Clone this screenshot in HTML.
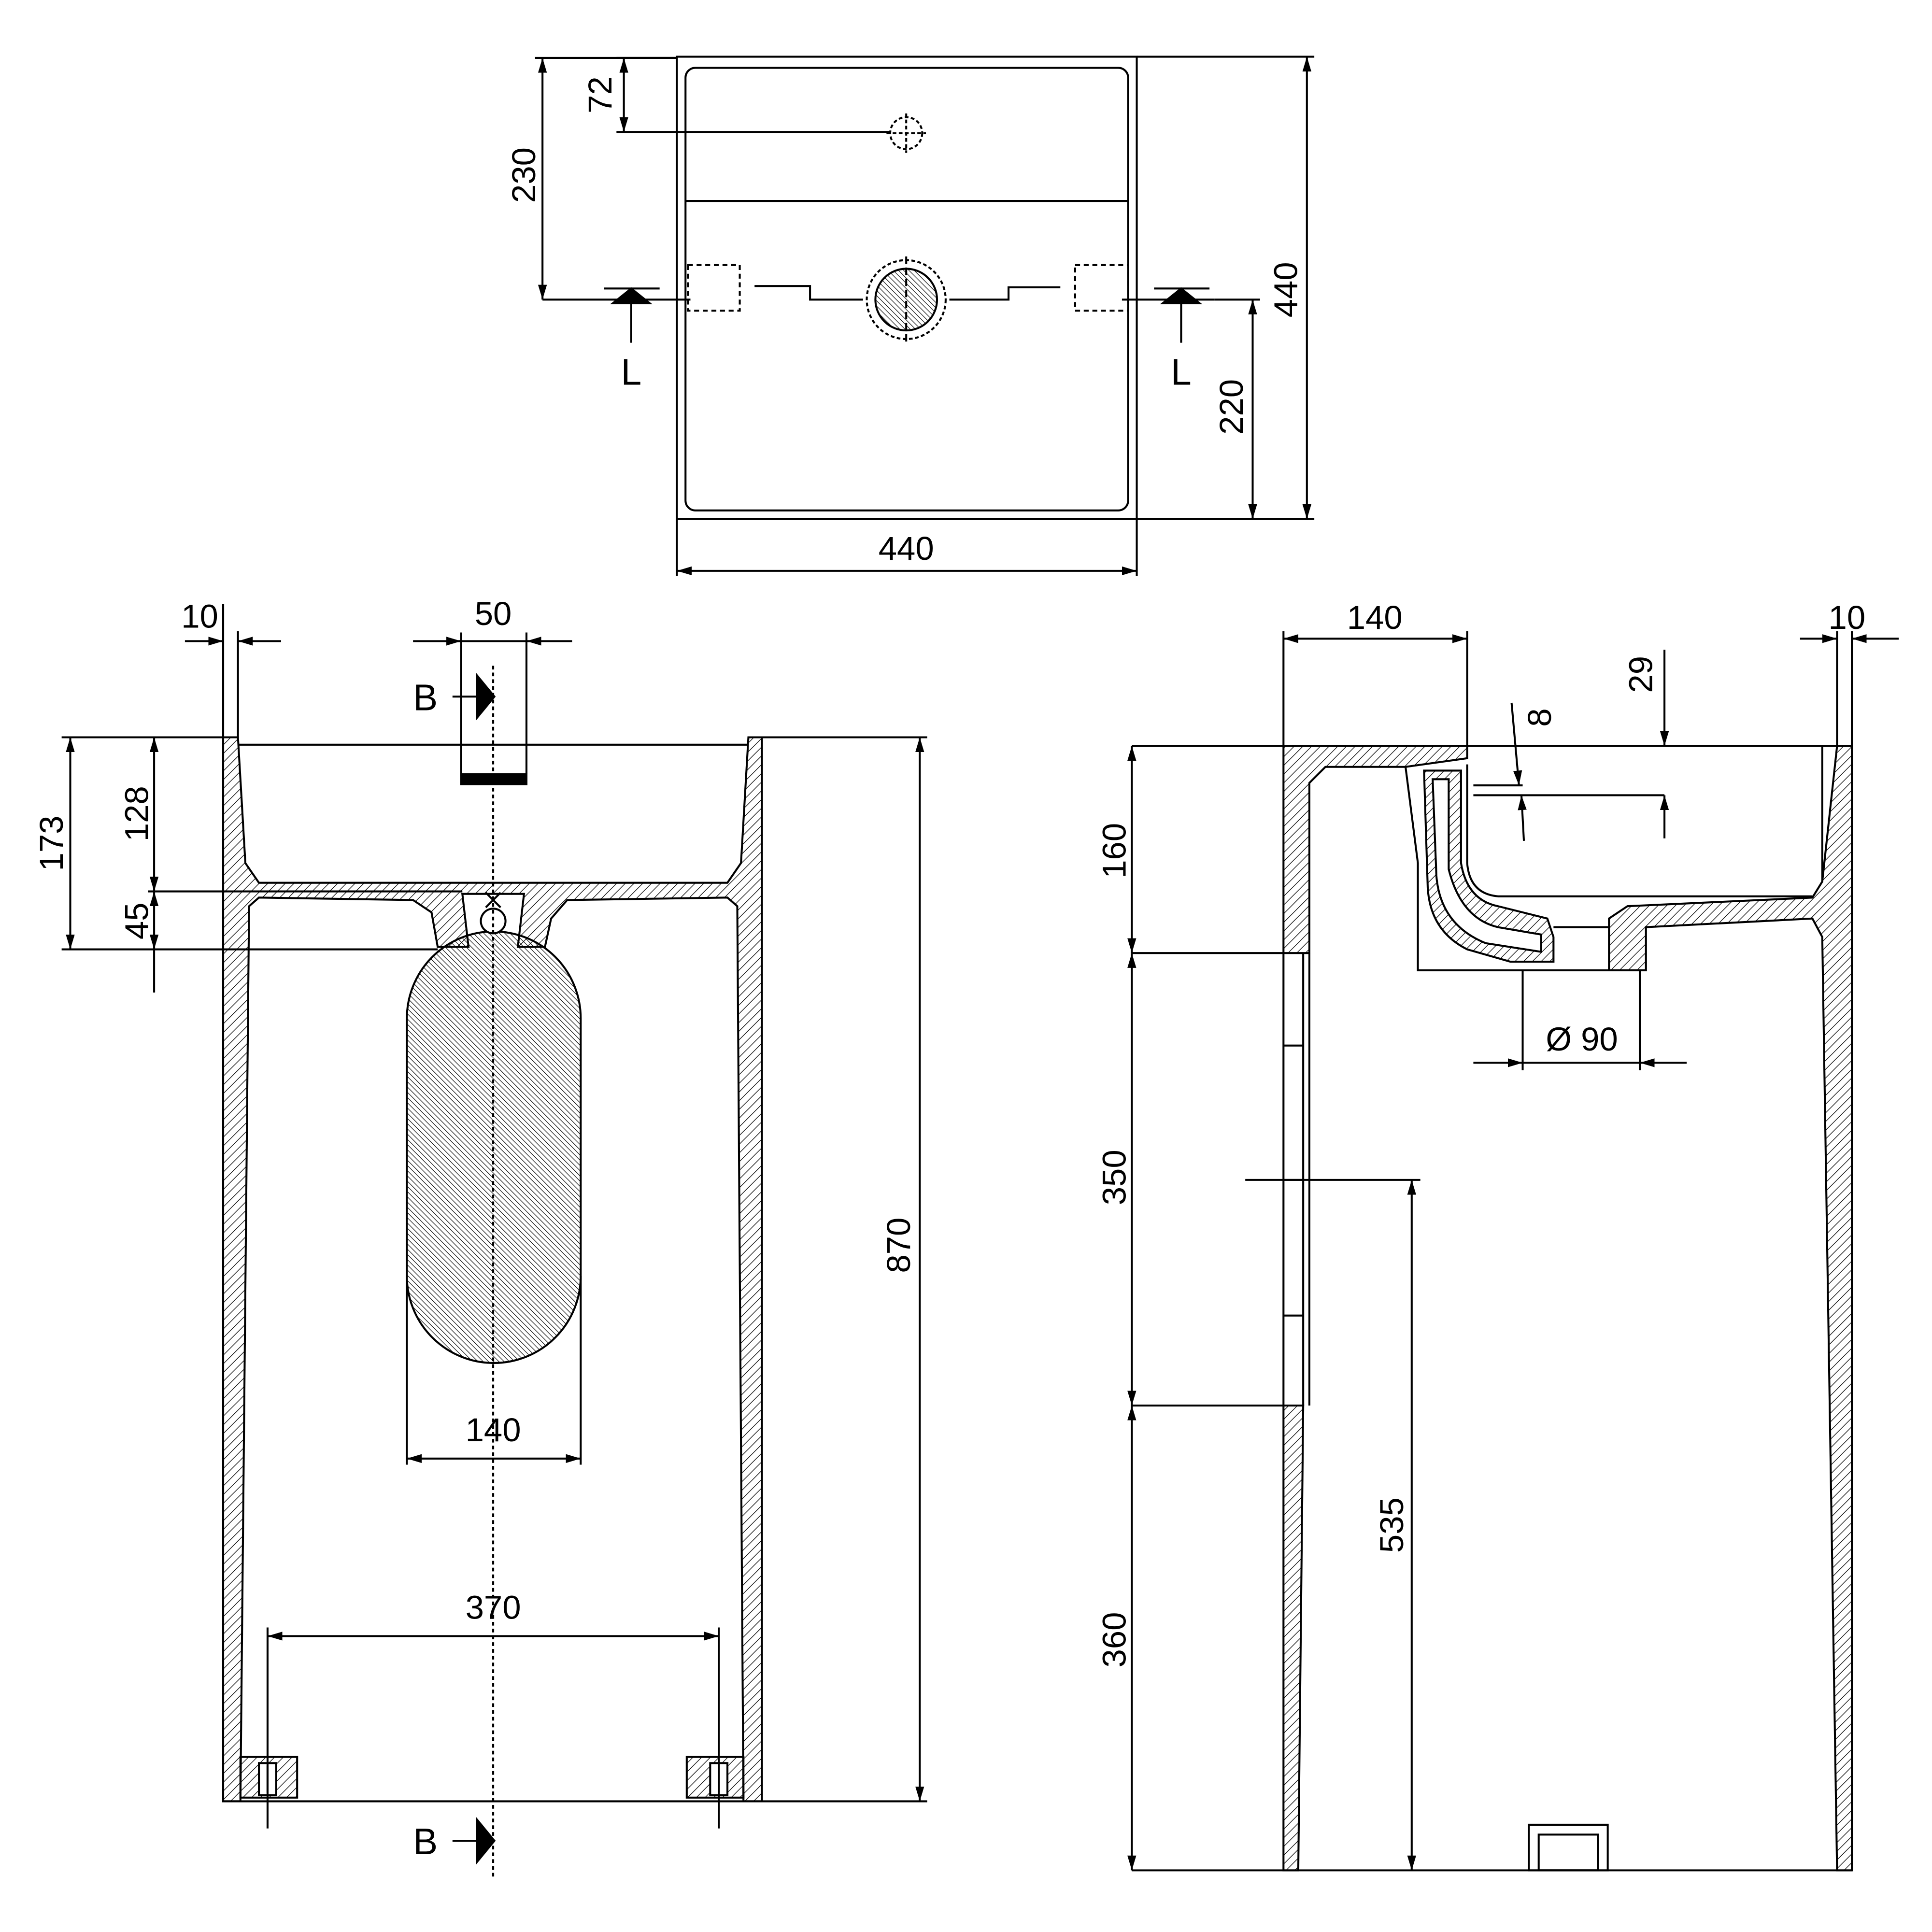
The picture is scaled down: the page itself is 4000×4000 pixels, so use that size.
<!DOCTYPE html>
<html><head><meta charset="utf-8"><style>html,body{margin:0;padding:0;background:#fff}svg{display:block}</style></head>
<body>
<svg width="4000" height="4000" viewBox="0 0 1567 1567" xmlns="http://www.w3.org/2000/svg" font-family="Liberation Sans, sans-serif" font-size="27" fill="none" stroke="#000" stroke-width="1.6">
<defs>
<pattern id="h" patternUnits="userSpaceOnUse" width="5" height="5" patternTransform="rotate(45)"><line x1="0" y1="0" x2="0" y2="5" stroke="#000" stroke-width="1"/></pattern>
<pattern id="h2" patternUnits="userSpaceOnUse" width="3" height="3" patternTransform="rotate(-45)"><line x1="0" y1="0" x2="0" y2="3" stroke="#000" stroke-width="0.9"/></pattern>
<marker id="a" viewBox="0 0 10 10" refX="10" refY="5" markerWidth="12" markerHeight="12" markerUnits="userSpaceOnUse" orient="auto-start-reverse"><path d="M0,2 L10,5 L0,8 z" fill="#000" stroke="none"/></marker>
</defs>

<!-- TOP VIEW -->
<rect x="549" y="46" width="373" height="375"/>
<rect x="556" y="55" width="359" height="359" rx="8"/>
<line x1="556" y1="163" x2="915" y2="163"/>
<circle cx="735" cy="108" r="13" stroke-dasharray="3,2"/>
<line x1="735" y1="92" x2="735" y2="124" stroke-dasharray="3,2"/><line x1="719" y1="108" x2="751" y2="108" stroke-dasharray="3,2"/>
<circle cx="735" cy="243" r="32" stroke-dasharray="3,2"/>
<circle cx="735" cy="243" r="25" fill="url(#h2)"/>
<line x1="735" y1="208" x2="735" y2="278" stroke-dasharray="6,3"/>
<rect x="558" y="215" width="42" height="37" stroke-dasharray="4,3"/>
<rect x="872" y="215" width="43" height="37" stroke-dasharray="4,3"/>
<polyline points="440,243 560,243"/>
<polyline points="612,232 657,232 657,243 700,243"/>
<polyline points="770,243 818,243 818,233 860,233"/>
<polyline points="910,243 985,243"/>
<line x1="490" y1="234" x2="535" y2="234"/><path d="M497,246 L512,234 L527,246 z" fill="#000"/>
<line x1="512" y1="246" x2="512" y2="278"/>
<line x1="936" y1="234" x2="981" y2="234"/><path d="M943,246 L958,234 L973,246 z" fill="#000"/>
<line x1="958" y1="246" x2="958" y2="278"/>
<g fill="#000" stroke="none" font-size="30"><text x="512" y="312" text-anchor="middle">L</text><text x="958" y="312" text-anchor="middle">L</text></g>
<!-- dims top -->
<line x1="500" y1="107" x2="722" y2="107"/><line x1="500" y1="47" x2="549" y2="47"/>
<line x1="506" y1="47" x2="506" y2="107" marker-start="url(#a)" marker-end="url(#a)"/>
<line x1="434" y1="47" x2="549" y2="47"/>
<line x1="440" y1="47" x2="440" y2="243" marker-start="url(#a)" marker-end="url(#a)"/>
<line x1="922" y1="46" x2="1066" y2="46"/><line x1="922" y1="421" x2="1066" y2="421"/>
<line x1="1060" y1="46" x2="1060" y2="421" marker-start="url(#a)" marker-end="url(#a)"/>
<line x1="985" y1="243" x2="1022" y2="243"/>
<line x1="1016" y1="243" x2="1016" y2="421" marker-start="url(#a)" marker-end="url(#a)"/>
<line x1="549" y1="421" x2="549" y2="467"/><line x1="922" y1="421" x2="922" y2="467"/>
<line x1="549" y1="463" x2="922" y2="463" marker-start="url(#a)" marker-end="url(#a)"/>
<g fill="#000" stroke="none">
<text transform="translate(496,77) rotate(-90)" text-anchor="middle">72</text>
<text transform="translate(434,142) rotate(-90)" text-anchor="middle">230</text>
<text transform="translate(1052,235) rotate(-90)" text-anchor="middle">440</text>
<text transform="translate(1008,330) rotate(-90)" text-anchor="middle">220</text>
<text x="735" y="454" text-anchor="middle">440</text>
</g>

<!-- FRONT SECTION -->
<path d="M181,598 L193,598 L199,700 L210,716 L590,716 L601,700 L607,598 L618,598 L618,1461 L603,1461 L598,735 L590,728 L460,730 L447,745 L442,768 L420,768 L425,725 L375,725 L380,768 L355,768 L350,740 L335,730 L210,728 L202,735 L195,1461 L181,1461 Z" fill="url(#h)"/>
<line x1="193" y1="604" x2="607" y2="604"/>
<line x1="181" y1="1461" x2="618" y2="1461"/>
<path d="M330,826 A70.5,70.5 0 0 1 471,826 L471,1035 A70.5,70.5 0 0 1 330,1035 Z" fill="url(#h2)"/>
<rect x="195" y="1425" width="46" height="33" fill="url(#h)"/><rect x="210" y="1430" width="14" height="26" fill="#fff"/><line x1="217" y1="1432" x2="217" y2="1454"/>
<rect x="557" y="1425" width="46" height="33" fill="url(#h)"/><rect x="576" y="1430" width="14" height="26" fill="#fff"/><line x1="583" y1="1432" x2="583" y2="1454"/>
<rect x="374" y="628" width="53" height="8" fill="#000"/>
<circle cx="400" cy="747" r="10" fill="#fff"/>
<path d="M394,724 L406,736 M406,724 L394,736"/>
<line x1="400" y1="540" x2="400" y2="1522" stroke-dasharray="3,2.5"/>
<!-- B markers -->
<line x1="367" y1="565" x2="387" y2="565"/><path d="M387,548 L401,565 L387,582 z" fill="#000"/>
<line x1="367" y1="1493" x2="387" y2="1493"/><path d="M387,1476 L401,1493 L387,1510 z" fill="#000"/>
<g fill="#000" stroke="none" font-size="30"><text x="345" y="576" text-anchor="middle">B</text><text x="345" y="1504" text-anchor="middle">B</text></g>
<!-- dims front -->
<line x1="181" y1="490" x2="181" y2="598"/><line x1="193" y1="512" x2="193" y2="598"/>
<line x1="150" y1="520" x2="181" y2="520" marker-end="url(#a)"/><line x1="228" y1="520" x2="193" y2="520" marker-end="url(#a)"/>
<line x1="374" y1="513" x2="374" y2="628"/><line x1="427" y1="513" x2="427" y2="628"/>
<line x1="335" y1="520" x2="464" y2="520"/>
<line x1="362" y1="520" x2="374" y2="520" marker-end="url(#a)"/><line x1="439" y1="520" x2="427" y2="520" marker-end="url(#a)"/>
<line x1="50" y1="598" x2="181" y2="598"/><line x1="120" y1="723" x2="375" y2="723"/><line x1="50" y1="770" x2="355" y2="770"/>
<line x1="57" y1="598" x2="57" y2="770" marker-start="url(#a)" marker-end="url(#a)"/>
<line x1="125" y1="598" x2="125" y2="723" marker-start="url(#a)" marker-end="url(#a)"/>
<line x1="125" y1="723" x2="125" y2="770" marker-start="url(#a)" marker-end="url(#a)"/>
<line x1="125" y1="770" x2="125" y2="805"/>
<line x1="618" y1="598" x2="752" y2="598"/><line x1="618" y1="1461" x2="752" y2="1461"/>
<line x1="746" y1="598" x2="746" y2="1461" marker-start="url(#a)" marker-end="url(#a)"/>
<line x1="330" y1="1035" x2="330" y2="1188"/><line x1="471" y1="1035" x2="471" y2="1188"/>
<line x1="330" y1="1183" x2="471" y2="1183" marker-start="url(#a)" marker-end="url(#a)"/>
<line x1="217" y1="1320" x2="217" y2="1483"/><line x1="583" y1="1320" x2="583" y2="1483"/>
<line x1="217" y1="1327" x2="583" y2="1327" marker-start="url(#a)" marker-end="url(#a)"/>
<g fill="#000" stroke="none">
<text x="162" y="509" text-anchor="middle">10</text>
<text x="400" y="507" text-anchor="middle">50</text>
<text transform="translate(51,684) rotate(-90)" text-anchor="middle">173</text>
<text transform="translate(120,660) rotate(-90)" text-anchor="middle">128</text>
<text transform="translate(120,747) rotate(-90)" text-anchor="middle">45</text>
<text transform="translate(738,1010) rotate(-90)" text-anchor="middle">870</text>
<text x="400" y="1169" text-anchor="middle">140</text>
<text x="400" y="1313" text-anchor="middle">370</text>
</g>

<!-- SIDE SECTION -->
<path d="M1041,605 L1190,605 L1190,615 L1140,622 L1075,622 L1062,635 L1062,773 L1041,773 Z" fill="url(#h)"/>
<path d="M1041,1140 L1057,1140 L1053,1517 L1041,1517 Z" fill="url(#h)"/>
<line x1="1041" y1="773" x2="1041" y2="1140"/><line x1="1057" y1="773" x2="1057" y2="1140"/>
<line x1="1041" y1="848" x2="1057" y2="848"/><line x1="1041" y1="957" x2="1057" y2="957"/><line x1="1041" y1="1067" x2="1057" y2="1067"/>
<line x1="1062" y1="773" x2="1062" y2="1140"/>
<path d="M1490,605 L1502,605 L1502,1517 L1490,1517 L1478,760 L1470,745 L1335,752 L1335,787 L1305,787 L1305,745 L1320,735 L1470,728 L1478,715 Z" fill="url(#h)"/>
<line x1="1190" y1="605" x2="1490" y2="605"/>
<line x1="1478" y1="605" x2="1478" y2="715"/>
<path d="M1190,620 L1190,700 Q1192,725 1215,727 L1470,727"/>
<path d="M1140,622 L1150,700 L1150,787 L1335,787"/>
<path d="M1155,625 L1185,625 L1185,700 Q1190,730 1215,735 L1255,745 L1260,760 L1260,780 L1225,780 L1190,770 Q1160,755 1158,720 Z" fill="url(#h)"/>
<path d="M1162,632 L1175,632 L1175,705 Q1185,745 1215,752 L1250,758 L1250,772 L1205,765 Q1168,750 1165,710 Z" fill="#fff"/>
<line x1="1260" y1="752" x2="1305" y2="752"/>
<line x1="1041" y1="1517" x2="1502" y2="1517"/>
<rect x="1240" y="1480" width="64" height="37"/><rect x="1248" y="1488" width="48" height="29"/>
<!-- dims side -->
<line x1="1041" y1="512" x2="1041" y2="605"/><line x1="1190" y1="512" x2="1190" y2="605"/>
<line x1="1041" y1="518" x2="1190" y2="518" marker-start="url(#a)" marker-end="url(#a)"/>
<line x1="1490" y1="512" x2="1490" y2="605"/><line x1="1502" y1="512" x2="1502" y2="605"/>
<line x1="1460" y1="518" x2="1490" y2="518" marker-end="url(#a)"/><line x1="1540" y1="518" x2="1502" y2="518" marker-end="url(#a)"/>
<line x1="1350" y1="527" x2="1350" y2="605" marker-end="url(#a)"/>
<line x1="1350" y1="680" x2="1350" y2="645" marker-end="url(#a)"/>
<line x1="1195" y1="645" x2="1350" y2="645"/>
<line x1="1195" y1="637" x2="1235" y2="637"/>
<line x1="1226" y1="570" x2="1232" y2="637" marker-end="url(#a)"/>
<line x1="1236" y1="682" x2="1234" y2="645" marker-end="url(#a)"/>
<line x1="1235" y1="787" x2="1235" y2="868"/><line x1="1330" y1="787" x2="1330" y2="868"/>
<line x1="1195" y1="862" x2="1235" y2="862" marker-end="url(#a)"/><line x1="1368" y1="862" x2="1330" y2="862" marker-end="url(#a)"/>
<line x1="1235" y1="862" x2="1330" y2="862"/>
<line x1="918" y1="605" x2="1041" y2="605"/><line x1="918" y1="773" x2="1041" y2="773"/><line x1="918" y1="1140" x2="1041" y2="1140"/><line x1="918" y1="1517" x2="1041" y2="1517"/>
<line x1="918" y1="605" x2="918" y2="773" marker-start="url(#a)" marker-end="url(#a)"/>
<line x1="918" y1="773" x2="918" y2="1140" marker-start="url(#a)" marker-end="url(#a)"/>
<line x1="918" y1="1140" x2="918" y2="1517" marker-start="url(#a)" marker-end="url(#a)"/>
<line x1="1010" y1="957" x2="1152" y2="957"/>
<line x1="1145" y1="957" x2="1145" y2="1517" marker-start="url(#a)" marker-end="url(#a)"/>
<g fill="#000" stroke="none">
<text x="1115" y="510" text-anchor="middle">140</text>
<text x="1498" y="510" text-anchor="middle">10</text>
<text transform="translate(1340,547) rotate(-90)" text-anchor="middle">29</text>
<text transform="translate(1258,582) rotate(-90)" text-anchor="middle">8</text>
<text x="1283" y="852" text-anchor="middle">Ø 90</text>
<text transform="translate(913,690) rotate(-90)" text-anchor="middle">160</text>
<text transform="translate(913,955) rotate(-90)" text-anchor="middle">350</text>
<text transform="translate(913,1330) rotate(-90)" text-anchor="middle">360</text>
<text transform="translate(1138,1237) rotate(-90)" text-anchor="middle">535</text>
</g>
</svg>
</body></html>
